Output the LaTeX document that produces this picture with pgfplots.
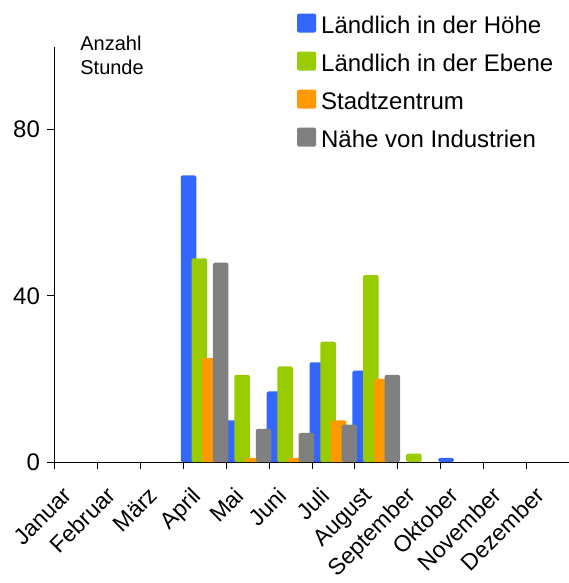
\documentclass[border=0pt]{standalone}
\usepackage{fontspec}
\setmainfont{Liberation Sans}
\usepackage{pgfplots}
\pgfplotsset{compat=1.18}
\definecolor{cblue}{RGB}{51,102,255}
\definecolor{cgreen}{RGB}{153,204,0}
\definecolor{corange}{RGB}{255,153,0}
\definecolor{cgray}{RGB}{128,128,128}
\begin{document}
\begin{tikzpicture}
\path[use as bounding box] (0,0) rectangle (569bp,583bp);
\begin{axis}[
    at={(54.4bp,121bp)}, anchor=south west,
    scale only axis, width=515bp, height=415.4bp,
    ybar, bar width=15.5bp,
    xmin=-0.5, xmax=11.5, ymin=0, ymax=100,
    axis x line=bottom, axis y line=left,
    axis line style={-, line width=0.8bp},
    tick align=outside, major tick length=7bp,
    tick style={black, line width=0.8bp},
    ytick={0,40,80},
    xtick={-0.5,0.5,...,11.5}, xticklabels={},
    extra x ticks={0,...,11},
    extra x tick labels={Januar,Februar,März,April,Mai,Juni,Juli,August,September,Oktober,November,Dezember},
    extra x tick style={major tick length=0pt},
    xticklabel style={xshift=-14bp, yshift=-22bp, rotate=45, anchor=north east, inner sep=1bp,
        font=\fontsize{23bp}{27bp}\selectfont},
    yticklabel style={xshift=-4bp, font=\fontsize{24bp}{28bp}\selectfont},
    /pgf/number format/assume math mode=true,
    clip=false,
    legend style={at={(0.471,1.0813)}, anchor=north west, draw=none, fill=none,
        inner sep=0pt, row sep=18bp,
        nodes={inner sep=0pt, text height=20bp, text depth=0bp},
        /tikz/every odd column/.append style={column sep=5bp},
        font=\fontsize{24bp}{28bp}\selectfont},
    legend cell align=left,
    every axis plot post/.append style={rounded corners=1.5bp,
        legend image code/.code={\fill[##1] (0bp,-9.5bp) rectangle (19bp,9.5bp);}},
]
\addplot[fill=cblue, draw=none, bar shift=-16.05bp] coordinates {(3,69) (4,10) (5,17) (6,24) (7,22) (9,1)};
\addplot[fill=cgreen, draw=none, bar shift=-5.35bp] coordinates {(3,49) (4,21) (5,23) (6,29) (7,45) (8,2)};
\addplot[fill=corange, draw=none, bar shift=5.35bp] coordinates {(3,25) (4,1) (5,1) (6,10) (7,20)};
\addplot[fill=cgray, draw=none, bar shift=16.05bp] coordinates {(3,48) (4,8) (5,7) (6,9) (7,21)};
\legend{Ländlich in der Höhe, Ländlich in der Ebene, Stadtzentrum, Nähe von Industrien}
\node[anchor=north west, align=left, inner sep=0pt, font=\fontsize{20bp}{24bp}\selectfont] at (rel axis cs:0.05,1.025) {Anzahl\\Stunde};
\end{axis}
\end{tikzpicture}
\end{document}
